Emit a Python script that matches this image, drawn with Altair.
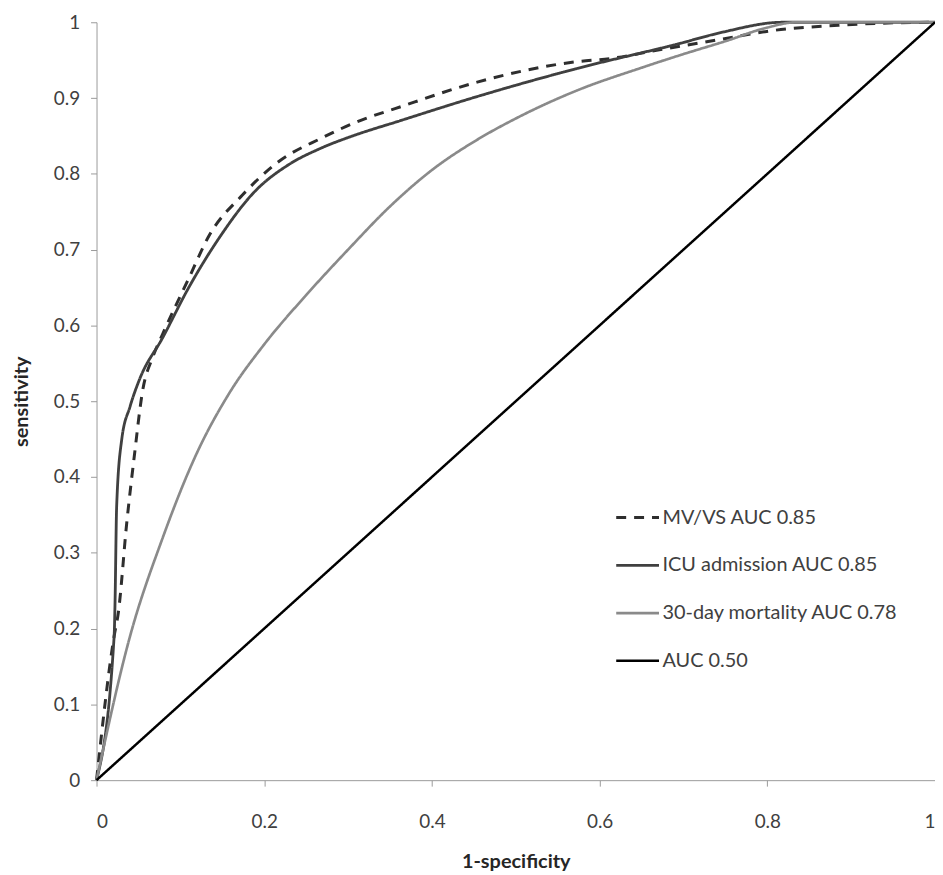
import altair as alt
import pandas as pd

series_names = ["MV/VS AUC 0.85", "ICU admission AUC 0.85", "30-day mortality AUC 0.78", "AUC 0.50"]

mv_x = [0, 0.021, 0.026, 0.036, 0.045, 0.055, 0.067, 0.079, 0.11, 0.134, 0.174, 0.217, 0.268, 0.316, 0.356, 0.454, 0.573, 0.612, 0.668, 0.747, 0.806, 0.885, 0.944, 1.0]
mv_y = [0, 0.19, 0.221, 0.339, 0.427, 0.514, 0.558, 0.589, 0.662, 0.718, 0.772, 0.816, 0.847, 0.871, 0.886, 0.921, 0.948, 0.952, 0.963, 0.978, 0.989, 0.996, 0.999, 1.0]

icu_x = [0, 0.021, 0.022, 0.024, 0.030, 0.040, 0.051, 0.079, 0.11, 0.146, 0.189, 0.229, 0.268, 0.308, 0.359, 0.454, 0.573, 0.692, 0.747, 0.818, 1.0]
icu_y = [0, 0.19, 0.23, 0.361, 0.449, 0.493, 0.528, 0.584, 0.65, 0.715, 0.777, 0.812, 0.834, 0.851, 0.869, 0.902, 0.939, 0.971, 0.987, 1.0, 1.0]

mort_x = [0, 0.04, 0.079, 0.119, 0.158, 0.2, 0.25, 0.3, 0.35, 0.4, 0.454, 0.5, 0.573, 0.65, 0.7, 0.75, 0.8, 0.834, 1.0]
mort_y = [0, 0.19, 0.32, 0.43, 0.51, 0.575, 0.64, 0.70, 0.757, 0.805, 0.845, 0.873, 0.91, 0.94, 0.958, 0.975, 0.993, 1.0, 1.0]

ref_x = [0, 1]
ref_y = [0, 1]

colors = ["#2e2e2e", "#404040", "#8a8a8a", "#000000"]
dashes = [[10, 8], [1, 0], [1, 0], [1, 0]]
widths = [3, 2.5, 2, 3]

rows = []
for name, xs, ys in zip(series_names, [mv_x, icu_x, mort_x, ref_x], [mv_y, icu_y, mort_y, ref_y]):
    for i, (a, b) in enumerate(zip(xs, ys)):
        rows.append({"series": name, "x": a, "y": b, "order": i})
df = pd.DataFrame(rows)

FONT = "Lato"

legend = alt.Legend(
    title=None,
    orient="none",
    legendX=521,
    legendY=475,
    symbolType="stroke",
    symbolSize=1849,
    labelFontSize=20,
    labelFont=FONT,
    labelColor="#404040",
    labelLimit=500,
    rowPadding=15,
    labelOffset=2,
)

chart = alt.Chart(df).mark_line(interpolate="monotone").encode(
    x=alt.X("x:Q", scale=alt.Scale(domain=[0, 1], nice=False),
            axis=alt.Axis(title="1-specificity", values=[0, 0.2, 0.4, 0.6, 0.8, 1], format=".1~f",
                          labelPadding=27, titlePadding=20)),
    y=alt.Y("y:Q", scale=alt.Scale(domain=[0, 1], nice=False),
            axis=alt.Axis(title="sensitivity", values=[0, 0.1, 0.2, 0.3, 0.4, 0.5, 0.6, 0.7, 0.8, 0.9, 1],
                          format=".1~f", labelPadding=11, titlePadding=22)),
    color=alt.Color("series:N", scale=alt.Scale(domain=series_names, range=colors), legend=legend),
    strokeDash=alt.StrokeDash("series:N", scale=alt.Scale(domain=series_names, range=dashes), legend=legend),
    strokeWidth=alt.StrokeWidth("series:N", scale=alt.Scale(domain=series_names, range=widths), legend=legend),
    order="order:Q",
    detail="series:N",
).properties(
    width=843,
    height=762,
    autosize=alt.AutoSizeParams(type="none"),
    padding={"left": 89, "top": 12, "right": 0, "bottom": 93},
).configure_view(
    stroke=None
).configure_axis(
    grid=False,
    domainColor="#9a9a9a",
    tickColor="#9a9a9a",
    tickSize=6,
    labelFont=FONT,
    labelFontSize=19,
    labelColor="#404040",
    titleFont=FONT,
    titleFontSize=20,
    titleFontWeight="bold",
    titleColor="#262626",
)

chart.save("out.html", embed_options={"renderer": "svg", "actions": False})
